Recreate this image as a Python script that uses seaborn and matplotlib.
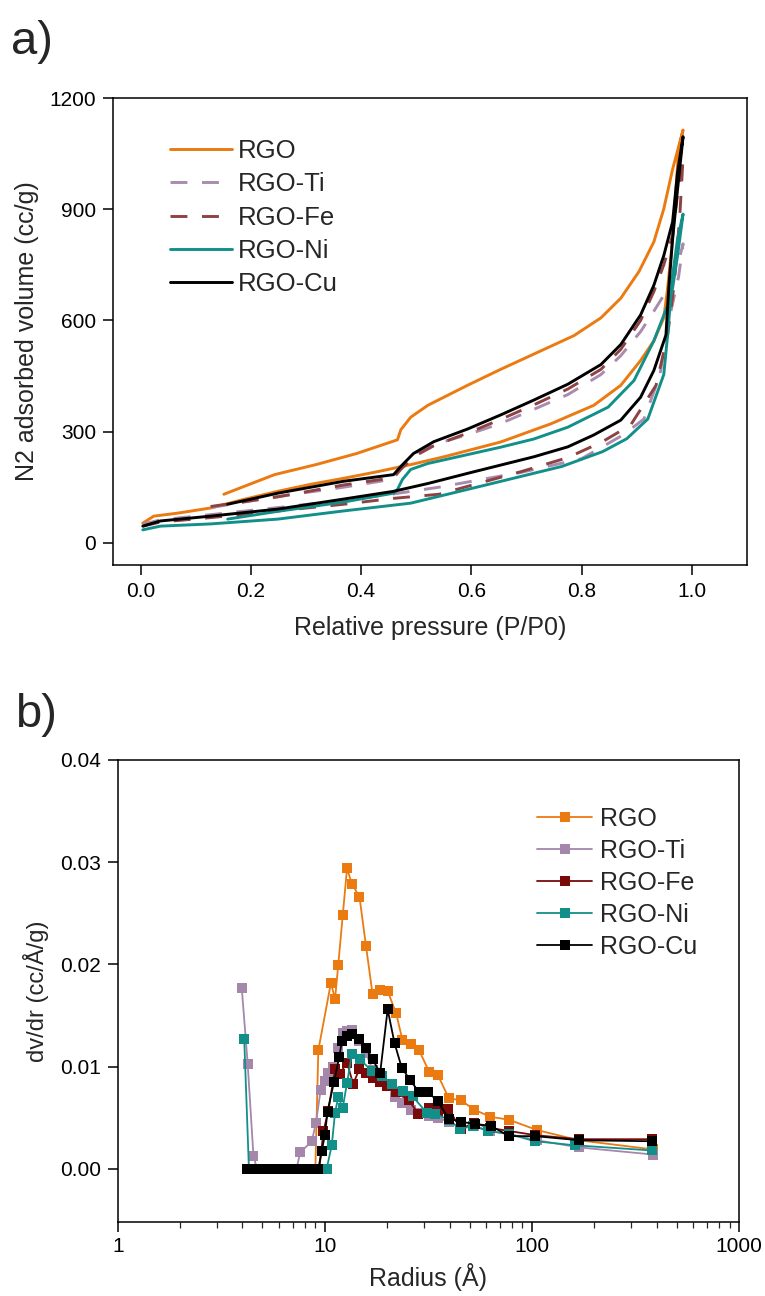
import matplotlib
matplotlib.use("Agg")
import matplotlib.pyplot as plt
import seaborn as sns
import pandas as pd
from matplotlib.ticker import FixedLocator, FuncFormatter, LogLocator, NullFormatter

# ---------------- panel a) N2 isotherms (adsorption up, desorption back) ----
labels = ["RGO", "RGO-Ti", "RGO-Fe", "RGO-Ni", "RGO-Cu"]

rgo_p = [0.004, 0.024, 0.067, 0.127, 0.187, 0.249, 0.309, 0.368, 0.430, 0.490,
         0.550, 0.653, 0.744, 0.822, 0.871, 0.907, 0.931, 0.949, 0.956, 0.965,
         0.971, 0.976, 0.984, 0.965, 0.949, 0.931, 0.904, 0.871, 0.835, 0.786,
         0.726, 0.653, 0.593, 0.521, 0.490, 0.472, 0.466, 0.392, 0.318, 0.243, 0.151]
rgo_v = [53, 72, 80, 94, 117, 139, 158, 174, 192, 211,
         232, 272, 321, 371, 425, 492, 545, 607, 687, 820,
         954, 1061, 1114, 1008, 901, 812, 732, 660, 607, 559,
         518, 468, 425, 371, 339, 305, 278, 241, 211, 184, 131]

ti_p = [0.004, 0.036, 0.127, 0.249, 0.368, 0.459, 0.541, 0.690, 0.800, 0.875,
        0.913, 0.942, 0.956, 0.976, 0.984, 0.976, 0.965, 0.949, 0.931, 0.907,
        0.871, 0.835, 0.775, 0.713, 0.653, 0.593, 0.532, 0.495, 0.472, 0.459,
        0.368, 0.249, 0.127]
ti_v = [50, 62, 76, 95, 115, 132, 150, 190, 227, 291,
        334, 452, 585, 719, 807, 760, 715, 668, 625, 570,
        505, 454, 400, 360, 322, 292, 265, 240, 205, 172,
        150, 125, 95]

fe_p = [0.004, 0.036, 0.127, 0.249, 0.368, 0.459, 0.541, 0.690, 0.775, 0.838,
        0.889, 0.935, 0.956, 0.968, 0.978, 0.984, 0.974, 0.965, 0.949, 0.931,
        0.907, 0.871, 0.835, 0.775, 0.713, 0.653, 0.593, 0.532, 0.495, 0.472,
        0.459, 0.368, 0.249, 0.127]
fe_v = [45, 56, 68, 86, 104, 120, 131, 192, 230, 273,
        318, 425, 560, 700, 880, 1040, 940, 830, 750, 678,
        600, 522, 468, 415, 372, 333, 296, 262, 232, 198,
        176, 156, 124, 98]

ni_p = [0.004, 0.036, 0.127, 0.249, 0.368, 0.490, 0.615, 0.764, 0.838, 0.882,
        0.920, 0.949, 0.956, 0.965, 0.974, 0.984, 0.974, 0.965, 0.956, 0.931,
        0.895, 0.848, 0.775, 0.713, 0.653, 0.593, 0.521, 0.490, 0.475, 0.466,
        0.459, 0.368, 0.249, 0.158]
ni_v = [35, 45, 51, 64, 86, 107, 152, 206, 246, 281,
        334, 454, 561, 722, 820, 887, 775, 687, 641, 545,
        438, 366, 312, 280, 258, 238, 214, 198, 171, 144,
        134, 110, 85, 64]

cu_p = [0.004, 0.036, 0.127, 0.249, 0.368, 0.459, 0.521, 0.600, 0.713, 0.775,
        0.822, 0.871, 0.907, 0.931, 0.953, 0.958, 0.965, 0.974, 0.984, 0.974,
        0.965, 0.949, 0.931, 0.907, 0.871, 0.835, 0.775, 0.713, 0.653, 0.593,
        0.532, 0.495, 0.472, 0.459, 0.368, 0.249, 0.158]
cu_v = [45, 59, 72, 91, 118, 139, 160, 190, 232, 259,
        291, 331, 393, 465, 561, 687, 820, 954, 1096, 1000,
        866, 775, 695, 615, 535, 481, 428, 385, 345, 307,
        273, 241, 206, 184, 166, 134, 104]

# ---------------- panel b) BJH pore size distribution ----------------------
rgo_r = [4.3, 4.5, 4.7, 4.9, 5.1, 5.3, 5.6, 5.8, 6.1, 6.4, 6.7, 7.0, 7.3, 7.7,
         8.0, 8.4, 8.8, 9.0, 9.3, 10.7, 11.2, 11.6, 12.2, 12.8, 13.5, 14.7,
         15.8, 17.0, 18.5, 20.1, 22.1, 23.7, 26.0, 28.5, 31.9, 35.1, 39.7,
         45.5, 52.5, 62.8, 77.6, 105.6, 168, 385]
rgo_d = [0, 0, 0, 0, 0, 0, 0, 0, 0, 0, 0, 0, 0, 0,
         0, 0, 0, 0, 0.0116, 0.0182, 0.0166, 0.0199, 0.0248, 0.0294, 0.0279, 0.0266,
         0.0218, 0.0171, 0.0175, 0.0174, 0.0152, 0.0126, 0.0122, 0.0116, 0.0095, 0.0092, 0.0069,
         0.0067, 0.0058, 0.0051, 0.0048, 0.0038, 0.0028, 0.0019]

ti_r = [3.97, 4.24, 4.52, 4.7, 4.9, 5.1, 5.3, 5.6, 5.8, 6.1, 6.4, 6.7, 7.0, 7.3,
        7.6, 8.65, 9.06, 9.54, 10.05, 10.4, 11.0, 11.6, 12.2, 12.8, 13.5, 14.7,
        15.8, 17.0, 18.5, 20.1, 21.7, 23.7, 26.0, 28.5, 31.9, 35.1, 39.7, 45.5,
        52.5, 62.8, 77.6, 105.6, 168, 385]
ti_d = [0.0177, 0.0103, 0.0013, 0, 0, 0, 0, 0, 0, 0, 0, 0, 0, 0,
        0.0016, 0.0027, 0.0045, 0.0077, 0.0086, 0.0094, 0.0100, 0.0118, 0.0133, 0.0135, 0.0136, 0.0125,
        0.0113, 0.0097, 0.0089, 0.0083, 0.0070, 0.0064, 0.0058, 0.0055, 0.0052, 0.0050, 0.0046, 0.0040,
        0.0042, 0.0037, 0.0034, 0.0028, 0.0021, 0.0014]

fe_r = [4.3, 4.5, 4.7, 4.9, 5.1, 5.3, 5.6, 5.8, 6.1, 6.4, 6.7, 7.0, 7.3, 7.7,
        8.0, 8.4, 8.8, 9.0, 9.4, 9.85, 10.4, 11.2, 11.8, 12.8, 13.7, 14.7,
        15.8, 17.0, 18.5, 19.9, 22.0, 25.4, 28.3, 31.9, 35.1, 39.5, 45.3,
        52.5, 62.8, 77.6, 103.6, 168, 378]
fe_d = [0, 0, 0, 0, 0, 0, 0, 0, 0, 0, 0, 0, 0, 0,
        0, 0, 0, 0, 0, 0.0037, 0.0057, 0.0098, 0.0093, 0.0104, 0.0083, 0.0098,
        0.0094, 0.0089, 0.0085, 0.0081, 0.0075, 0.0067, 0.0054, 0.0060, 0.0057, 0.0059, 0.0039,
        0.0045, 0.0040, 0.0037, 0.0033, 0.0029, 0.0029]

ni_r = [4.08, 4.3, 4.5, 4.7, 4.9, 5.1, 5.3, 5.6, 5.8, 6.1, 6.4, 6.7, 7.0, 7.3,
        7.7, 8.0, 8.4, 8.8, 9.0, 9.4, 9.8, 10.2, 10.8, 11.2, 11.6, 12.2, 12.8,
        13.5, 14.8, 16.8, 18.8, 21.0, 23.8, 26.5, 31.0, 34.0, 39.7, 45.0, 52.0,
        61.5, 77.6, 103.6, 162, 378]
ni_d = [0.0127, 0, 0, 0, 0, 0, 0, 0, 0, 0, 0, 0, 0, 0,
        0, 0, 0, 0, 0, 0, 0, 0, 0.0023, 0.0055, 0.0070, 0.0060, 0.0084,
        0.0112, 0.0107, 0.0096, 0.0091, 0.0083, 0.0076, 0.0071, 0.0055, 0.0054, 0.0048, 0.0039, 0.0042,
        0.0037, 0.0034, 0.0027, 0.0023, 0.0018]

cu_r = [4.2, 4.3, 4.5, 4.7, 4.9, 5.1, 5.3, 5.6, 5.8, 6.1, 6.4, 6.7, 7.0, 7.3,
        7.7, 8.0, 8.4, 8.8, 9.0, 9.3, 9.65, 10.0, 10.3, 11.07, 11.73, 12.08,
        12.8, 13.5, 14.7, 15.8, 17.0, 18.5, 20.1, 21.7, 23.5, 25.8, 28.5, 31.6,
        35.1, 39.7, 45.5, 52.8, 63.4, 77.6, 103.6, 168, 378]
cu_d = [0, 0, 0, 0, 0, 0, 0, 0, 0, 0, 0, 0, 0, 0,
        0, 0, 0, 0, 0, 0, 0.0017, 0.0033, 0.0056, 0.0085, 0.0109, 0.0125,
        0.0130, 0.0132, 0.0127, 0.0118, 0.0107, 0.0094, 0.0156, 0.0123, 0.0099, 0.0087, 0.0075, 0.0075,
        0.0066, 0.0049, 0.0046, 0.0044, 0.0042, 0.0032, 0.0032, 0.0028, 0.0027]

iso_colors = ["#EB7A10", "#A98BAE", "#8E4242", "#138F8A", "#000000"]
iso_styles = ["-", (0, (5.8, 5.0)), (0, (5.8, 5.0)), "-", "-"]
psd_colors = ["#EB7A10", "#A487AA", "#7A0A0A", "#138F8A", "#000000"]

sns.set_style("ticks")
plt.rcParams["font.family"] = ["Liberation Sans", "DejaVu Sans"]

fig = plt.figure(figsize=(7.65, 12.96), dpi=100)
ax1 = fig.add_axes([0.1477, 0.5640, 0.8288, 0.3603])
ax2 = fig.add_axes([0.1539, 0.0571, 0.8122, 0.3565])

# --- a) isotherms
iso = [(rgo_p, rgo_v), (ti_p, ti_v), (fe_p, fe_v), (ni_p, ni_v), (cu_p, cu_v)]
for (p, v), lab, col, ls in zip(iso, labels, iso_colors, iso_styles):
    df = pd.DataFrame({"p": p, "v": v})
    sns.lineplot(data=df, x="p", y="v", ax=ax1, sort=False, estimator=None,
                 color=col, linestyle=ls, linewidth=2.1, label=lab)

ax1.set_xlim(-0.05, 1.10)
ax1.set_ylim(-60, 1200)
ax1.xaxis.set_major_locator(FixedLocator([0.0, 0.2, 0.4, 0.6, 0.8, 1.0]))
ax1.xaxis.set_major_formatter(FuncFormatter(lambda x, _: f"{x:.1f}"))
ax1.yaxis.set_major_locator(FixedLocator([0, 300, 600, 900, 1200]))
ax1.set_xlabel("Relative pressure (P/P0)", fontsize=18, labelpad=11)
ax1.set_ylabel("N2 adsorbed volume (cc/g)", fontsize=18, labelpad=8)
ax1.legend(loc="upper left", bbox_to_anchor=(0.09, 0.912), frameon=False,
           fontsize=18.5, handlelength=2.4, handletextpad=0.25, labelspacing=0.36,
           borderpad=0, borderaxespad=0)

# --- b) pore size distribution
psd = [(rgo_r, rgo_d), (ti_r, ti_d), (fe_r, fe_d), (ni_r, ni_d), (cu_r, cu_d)]
for (r, d), lab, col in zip(psd, labels, psd_colors):
    df = pd.DataFrame({"r": r, "d": d})
    sns.lineplot(data=df, x="r", y="d", ax=ax2, sort=False, estimator=None,
                 color=col, linewidth=1.3, marker="s", markersize=7,
                 markeredgewidth=0, label=lab)

ax2.set_xscale("log")
ax2.set_xlim(1, 1000)
ax2.set_ylim(-0.0052, 0.04)
ax2.xaxis.set_major_locator(FixedLocator([1, 10, 100, 1000]))
ax2.xaxis.set_major_formatter(FuncFormatter(lambda x, _: f"{x:g}"))
ax2.xaxis.set_minor_locator(LogLocator(base=10, subs=range(2, 10)))
ax2.xaxis.set_minor_formatter(NullFormatter())
ax2.yaxis.set_major_locator(FixedLocator([0.0, 0.01, 0.02, 0.03, 0.04]))
ax2.yaxis.set_major_formatter(FuncFormatter(lambda y, _: f"{y:.2f}"))
ax2.set_ylabel("dv/dr (cc/Å/g)", fontsize=17, labelpad=8)
ax2.legend(loc="upper left", bbox_to_anchor=(0.675, 0.898), frameon=False,
           fontsize=18, handlelength=2.2, handletextpad=0.3, labelspacing=0.32,
           borderpad=0, borderaxespad=0)

for ax in (ax1, ax2):
    for s in ax.spines.values():
        s.set_visible(True)
        s.set_linewidth(1.1)
        s.set_color("black")
    ax.tick_params(axis="both", which="major", direction="out", length=7,
                   width=1.1, labelsize=15, colors="black", pad=5)
    ax.tick_params(axis="both", which="minor", direction="out", length=4, width=0.9)

ax2.tick_params(axis="x", which="major", pad=3.5)
ax2.set_xlabel("Radius (Å)", fontsize=18, labelpad=5)

fig.text(0.015, 1 - 42 / 1296, "a)", fontsize=34, va="center", ha="left")
fig.text(0.02, 1 - 715 / 1296, "b)", fontsize=34, va="center", ha="left")

fig.savefig("out.png", dpi=100)
